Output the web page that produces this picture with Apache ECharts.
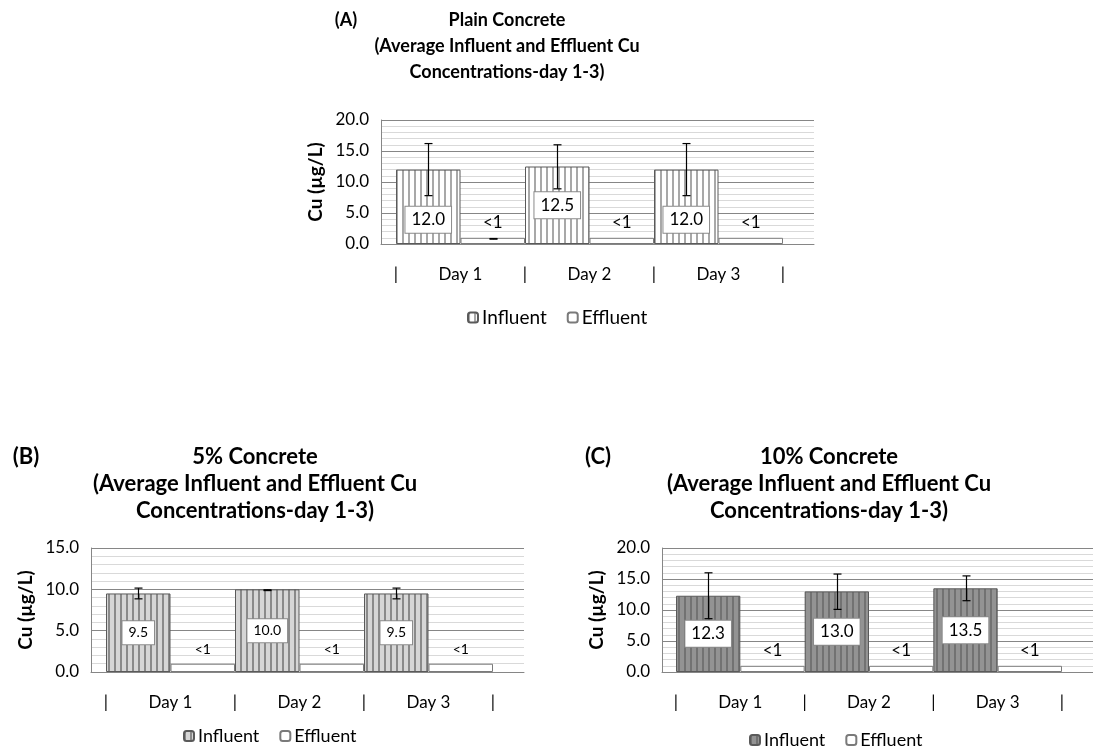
<!DOCTYPE html>
<html><head><meta charset="utf-8">
<script src="https://cdn.jsdelivr.net/npm/echarts@6/dist/echarts.min.js"></script>
<style>html,body{margin:0;padding:0;background:#fff}#c{width:1093px;height:753px}</style>
</head><body><div id="c"></div>
<script>
// ---------- DATA ----------
const categories = ['Day 1', 'Day 2', 'Day 3'];
const seriesNames = ['Influent', 'Effluent'];
const effluentLabels = ['<1', '<1', '<1'];

// (A) Plain Concrete
const aTitle = ['Plain Concrete', '(Average Influent and Effluent Cu', 'Concentrations-day 1-3)'];
const aInfluent = [12.0, 12.5, 12.0];
const aInfluentErrLow = [7.8, 8.9, 7.8];
const aInfluentErrHigh = [16.2, 16.0, 16.2];
const aEffluent = [1.0, 1.0, 1.0];
const aEffluentErrLow = [0.78, null, null];
const aEffluentErrHigh = [0.88, null, null];
const aYTicks = ['0.0', '5.0', '10.0', '15.0', '20.0'];

// (B) 5% Concrete
const bTitle = ['5% Concrete', '(Average Influent and Effluent Cu', 'Concentrations-day 1-3)'];
const bInfluent = [9.5, 10.0, 9.5];
const bInfluentErrLow = [8.85, 9.85, 8.85];
const bInfluentErrHigh = [10.15, 9.95, 10.15];
const bEffluent = [1.0, 1.0, 1.0];
const bEffluentErrLow = [null, null, null];
const bEffluentErrHigh = [null, null, null];
const bYTicks = ['0.0', '5.0', '10.0', '15.0'];

// (C) 10% Concrete
const cTitle = ['10% Concrete', '(Average Influent and Effluent Cu', 'Concentrations-day 1-3)'];
const cInfluent = [12.3, 13.0, 13.5];
const cInfluentErrLow = [8.6, 10.1, 11.5];
const cInfluentErrHigh = [16.0, 15.8, 15.5];
const cEffluent = [1.0, 1.0, 1.0];
const cEffluentErrLow = [null, null, null];
const cEffluentErrHigh = [null, null, null];
const cYTicks = ['0.0', '5.0', '10.0', '15.0', '20.0'];

const yAxisName = 'Cu (µg/L)';
const panelTags = ['(A)', '(B)', '(C)'];

// ---------- STYLE / LAYOUT ----------
const FONT = 'Lato, "Open Sans", sans-serif';
function stripePattern(bg, stripe, period, w) {
  const c = document.createElement('canvas');
  c.width = period; c.height = 4;
  const g = c.getContext('2d');
  g.fillStyle = bg; g.fillRect(0, 0, period, 4);
  g.fillStyle = stripe; g.fillRect(0, 0, w, 4);
  return { image: c, repeat: 'repeat' };
}

const panels = [
  { key: 'A', tag: panelTags[0], title: aTitle, inf: aInfluent, infLo: aInfluentErrLow, infHi: aInfluentErrHigh,
    eff: aEffluent, effLo: aEffluentErrLow, effHi: aEffluentErrHigh, ticks: aYTicks,
    fill: stripePattern('#ffffff', '#a8a8a8', 6, 2),
    bg: { left: 381, top: 120, width: 433, height: 124 }, bars: { left: 396, width: 387 },
    titleX: 507, titleY: 7, titleSize: 18, titleLH: 26, tagX: 346, legendLeft: 462, legendTop: 303, legendSize: 19, nameGap: 56, nameSize: 19,
    labelSize: 17, effSize: 17, labelShift: [13, 0, 13] },
  { key: 'B', tag: panelTags[1], title: bTitle, inf: bInfluent, infLo: bInfluentErrLow, infHi: bInfluentErrHigh,
    eff: bEffluent, effLo: bEffluentErrLow, effHi: bEffluentErrHigh, ticks: bYTicks,
    fill: stripePattern('#d6d6d6', '#8a8a8a', 6, 2),
    bg: { left: 91, top: 548, width: 433, height: 124 }, bars: { left: 106, width: 387 },
    titleX: 255, titleY: 443, titleSize: 22, titleLH: 27, tagX: 26, legendLeft: 178, legendTop: 722, legendSize: 18, nameGap: 56, nameSize: 19,
    labelSize: 14, effSize: 14, labelShift: [0, 0, 0] },
  { key: 'C', tag: panelTags[2], title: cTitle, inf: cInfluent, infLo: cInfluentErrLow, infHi: cInfluentErrHigh,
    eff: cEffluent, effLo: cEffluentErrLow, effHi: cEffluentErrHigh, ticks: cYTicks,
    fill: stripePattern('#939393', '#727272', 6, 2),
    bg: { left: 662, top: 548, width: 431, height: 124 }, bars: { left: 676, width: 386 },
    titleX: 829, titleY: 443, titleSize: 22, titleLH: 27, tagX: 598, legendLeft: 744, legendTop: 726, legendSize: 18, nameGap: 56, nameSize: 19,
    labelSize: 17, effSize: 17, labelShift: [0, 0, 0] }
];

const grid = [], xAxis = [], yAxis = [], series = [], legend = [], graphic = [];
panels.forEach((p, k) => {
  const gBg = grid.length;
  grid.push({ left: p.bg.left, top: p.bg.top, width: p.bg.width, height: p.bg.height });
  const gBar = grid.length;
  grid.push({ left: p.bars.left, top: p.bg.top, width: p.bars.width, height: p.bg.height });
  const tickVals = p.ticks.map(Number);
  const yMin = tickVals[0], yMax = tickVals[tickVals.length - 1], yInt = tickVals[1] - tickVals[0];

  // background axes
  xAxis.push({ type: 'value', gridIndex: gBg, min: 0, max: 1, axisLine: { show: true, onZero: false, lineStyle: { color: '#868686', width: 1 } },
    axisTick: { show: false }, axisLabel: { show: false }, splitLine: { show: false } });
  yAxis.push({ type: 'value', gridIndex: gBg, min: yMin, max: yMax, interval: yInt,
    axisLine: { show: true, lineStyle: { color: '#868686', width: 1 } }, axisTick: { show: false },
    axisLabel: { color: '#000', fontSize: 17, fontFamily: FONT, margin: 12, formatter: v => p.ticks[tickVals.indexOf(v)] },
    splitLine: { show: true, lineStyle: { color: '#868686', width: 1 } },
    minorTick: { show: false, splitNumber: 5 },
    minorSplitLine: { show: true, lineStyle: { color: '#d9d9d9', width: 1 } },
    name: yAxisName, nameLocation: 'middle', nameGap: p.nameGap,
    nameTextStyle: { color: '#000', fontSize: p.nameSize, fontWeight: 'bold', fontFamily: FONT } });

  // bar axes
  const xCat = xAxis.length;
  xAxis.push({ type: 'category', gridIndex: gBar, data: categories, axisLine: { show: false }, axisTick: { show: false },
    axisLabel: { color: '#000', fontSize: 17, fontFamily: FONT, margin: 22 }, splitLine: { show: false } });
  xAxis.push({ type: 'value', gridIndex: gBar, min: 0, max: categories.length, interval: 1, position: 'bottom',
    axisLine: { show: false }, axisTick: { show: false }, splitLine: { show: false },
    axisLabel: { color: '#000', fontSize: 17, fontFamily: FONT, margin: 22, formatter: () => '|', showMinLabel: true, showMaxLabel: true } });
  const yBar = yAxis.length;
  yAxis.push({ type: 'value', gridIndex: gBar, min: yMin, max: yMax, interval: yInt, show: false });

  const nInf = seriesNames[0] + '|' + p.key, nEff = seriesNames[1] + '|' + p.key;
  series.push({ type: 'bar', name: nInf, xAxisIndex: xCat, yAxisIndex: yBar,
    data: p.inf.map((v, i) => ({ value: v, label: { offset: [0, p.labelShift[i]] } })),
    barGap: '0%', barCategoryGap: '0%',
    itemStyle: { color: p.fill, borderColor: '#5a5a5a', borderWidth: 1 },
    label: { show: true, position: 'inside', formatter: d => d.value.toFixed(1), color: '#000', fontSize: p.labelSize, fontFamily: FONT,
      backgroundColor: '#fff', borderColor: '#8a8a8a', borderWidth: 1, padding: [5, 6, 4, 6] } });
  series.push({ type: 'bar', name: nEff, xAxisIndex: xCat, yAxisIndex: yBar, data: p.eff,
    barGap: '0%', barCategoryGap: '0%',
    itemStyle: { color: '#fff', borderColor: '#7a7a7a', borderWidth: 1 },
    label: { show: true, position: 'top', distance: 7, formatter: d => effluentLabels[d.dataIndex], color: '#000', fontSize: p.effSize, fontFamily: FONT } });

  const errSeries = (lo, hi, side) => ({
    type: 'custom', xAxisIndex: xCat, yAxisIndex: yBar, z: 5, silent: true,
    encode: { x: 0, y: [1, 2] },
    data: lo.map((l, i) => [i, l, hi[i]]).filter(d => d[1] != null),
    renderItem: (params, api) => {
      const i = api.value(0);
      const w = api.size([1, 0])[0];
      const x = Math.round(api.coord([i, 0])[0] + side * w / 4) + 0.5;
      const y1 = api.coord([i, api.value(1)])[1], y2 = api.coord([i, api.value(2)])[1];
      const cap = 4, st = { stroke: '#000', lineWidth: 1.2 };
      return { type: 'group', children: [
        { type: 'line', shape: { x1: x, y1: y1, x2: x, y2: y2 }, style: st },
        { type: 'line', shape: { x1: x - cap, y1: y1, x2: x + cap, y2: y1 }, style: st },
        { type: 'line', shape: { x1: x - cap, y1: y2, x2: x + cap, y2: y2 }, style: st }
      ] };
    }
  });
  series.push(errSeries(p.infLo, p.infHi, -1));
  series.push(errSeries(p.effLo, p.effHi, 1));

  legend.push({ data: [nInf, nEff], left: p.legendLeft, top: p.legendTop, itemWidth: 10, itemHeight: 10, itemGap: 20,
    formatter: n => n.split('|')[0], selectedMode: false,
    textStyle: { color: '#000', fontSize: p.legendSize, fontFamily: FONT, padding: [0, 0, 0, -1] } });

  graphic.push({ type: 'text', x: p.titleX, y: p.titleY, style: { text: p.title.join('\n'), textAlign: 'center', textVerticalAlign: 'top',
    fill: '#000', font: 'bold ' + p.titleSize + 'px ' + FONT, lineHeight: p.titleLH } });
  graphic.push({ type: 'text', x: p.tagX, y: p.titleY, style: { text: p.tag, textAlign: 'center', textVerticalAlign: 'top',
    fill: '#000', font: 'bold ' + p.titleSize + 'px ' + FONT, lineHeight: p.titleLH } });
});

const chart = echarts.init(document.getElementById('c'), null, { renderer: 'canvas' });
chart.setOption({ backgroundColor: '#fff', animation: false, grid, xAxis, yAxis, series, legend, graphic });
</script>
</body></html>
